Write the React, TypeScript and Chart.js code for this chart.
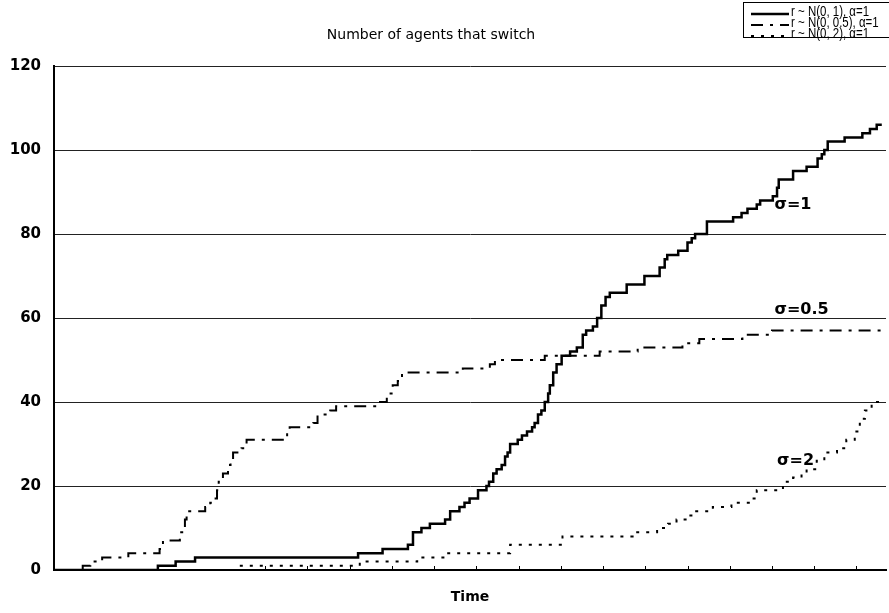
import { useEffect, useRef } from 'react';
import { Chart, registerables } from 'chart.js';

Chart.register(...registerables);

// σ = 1 run: time of each switch and cumulative count after it
const timeSigma1 = [0, 123, 144, 167, 360, 389, 419, 425, 435, 445, 463, 469, 480, 486, 492, 502, 512, 515, 520, 524, 530, 534, 537, 540, 549, 554, 560, 566, 569, 573, 577, 581, 585, 587, 591, 595, 601, 611, 619, 626, 630, 638, 643, 648, 653, 658, 678, 699, 717, 723, 726, 739, 750, 755, 759, 773, 804, 814, 821, 832, 836, 851, 856, 858, 875, 891, 904, 909, 912, 916, 936, 957, 966, 974, 980];
const countSigma1 = [0, 1, 2, 3, 4, 5, 6, 9, 10, 11, 12, 14, 15, 16, 17, 19, 20, 21, 23, 24, 25, 27, 28, 30, 31, 32, 33, 34, 35, 37, 38, 40, 42, 44, 47, 49, 51, 52, 53, 56, 57, 58, 60, 63, 65, 66, 68, 70, 72, 74, 75, 76, 78, 79, 80, 83, 84, 85, 86, 87, 88, 89, 91, 93, 95, 96, 98, 99, 100, 102, 103, 104, 105, 106, 106];

// σ = 0.5 run
const timeSigma05 = [0, 34, 43, 57, 88, 125, 129, 149, 153, 155, 157, 179, 185, 188, 193, 195, 200, 206, 209, 212, 222, 224, 228, 276, 279, 307, 312, 327, 334, 382, 394, 396, 401, 407, 412, 484, 516, 522, 581, 646, 691, 744, 764, 815, 850, 985];
const countSigma05 = [0, 1, 2, 3, 4, 5, 7, 9, 10, 12, 14, 15, 16, 17, 19, 21, 23, 25, 26, 28, 29, 30, 31, 33, 34, 35, 37, 38, 39, 40, 41, 42, 44, 45, 47, 48, 49, 50, 51, 52, 53, 54, 55, 56, 57, 57];

// σ = 2 run
const timeSigma2 = [0, 218, 362, 430, 465, 540, 602, 685, 714, 727, 737, 749, 759, 780, 802, 826, 832, 863, 875, 885, 891, 903, 912, 927, 938, 948, 954, 960, 968, 985];
const countSigma2 = [0, 1, 2, 3, 4, 6, 8, 9, 10, 11, 12, 13, 14, 15, 16, 17, 19, 21, 22, 23, 24, 26, 28, 29, 31, 33, 36, 38, 40, 40];

const seriesLabels = ['r ~ N(0, 1), α=1', 'r ~ N(0, 0.5), α=1', 'r ~ N(0, 2), α=1'];
const curveTags = ['σ=1', 'σ=0.5', 'σ=2'];
const yTickValues = [0, 20, 40, 60, 80, 100, 120];
const xTickMarks = [250, 300, 350, 400, 450, 500, 550, 600, 650, 700, 750, 800, 850, 900, 950];

const chartTitle = 'Number of agents that switch';
const xAxisTitle = 'Time';

const toPoints = (t: number[], v: number[]) => t.map((x, i) => ({ x, y: v[i] }));

// where each curve tag sits, in data units (time, count)
const tagAnchors = [
  { t: 853, v: 87 },
  { t: 853, v: 62 },
  { t: 856, v: 26 },
];

const decorations = {
  id: 'decorations',
  afterDatasetsDraw(chart: any) {
    const { ctx, chartArea, scales } = chart;
    ctx.save();
    // short inward tick marks on the time axis
    ctx.strokeStyle = '#000';
    ctx.lineWidth = 1;
    xTickMarks.forEach((t) => {
      const px = Math.round(scales.x.getPixelForValue(t)) + 0.5;
      ctx.beginPath();
      ctx.moveTo(px, chartArea.bottom);
      ctx.lineTo(px, chartArea.bottom - 4);
      ctx.stroke();
    });

    // curve tags
    ctx.fillStyle = '#000';
    ctx.font = 'bold 16px "DejaVu Sans"';
    ctx.textAlign = 'left';
    ctx.textBaseline = 'middle';
    curveTags.forEach((tag, i) => {
      const a = tagAnchors[i];
      ctx.fillText(tag, scales.x.getPixelForValue(a.t), scales.y.getPixelForValue(a.v));
    });
    ctx.restore();
  },
  afterDraw(chart: any) {
    const { ctx } = chart;
    ctx.save();
    // title
    ctx.fillStyle = '#000';
    ctx.font = '14px "DejaVu Sans"';
    ctx.textAlign = 'center';
    ctx.textBaseline = 'middle';
    ctx.fillText(chartTitle, 431, 35);

    // boxed legend in the top-right corner
    const boxLeft = 743.5;
    const boxTop = 2.5;
    ctx.fillStyle = '#fff';
    ctx.fillRect(boxLeft, boxTop, 160, 35);
    ctx.strokeStyle = '#000';
    ctx.lineWidth = 1;
    ctx.strokeRect(boxLeft, boxTop, 160, 35);

    ctx.textAlign = 'left';
    ctx.textBaseline = 'middle';
    chart.data.datasets.forEach((ds: any, i: number) => {
      const rowY = 11 + i * 11;
      ctx.save();
      ctx.strokeStyle = ds.borderColor;
      ctx.lineWidth = ds.borderWidth;
      ctx.setLineDash(ds.borderDash || []);
      ctx.beginPath();
      ctx.moveTo(751, rowY + 3);
      ctx.lineTo(789, rowY + 3);
      ctx.stroke();
      ctx.restore();

      // slightly condensed label text
      ctx.save();
      ctx.translate(791, rowY + 1);
      ctx.scale(0.82, 1);
      ctx.fillStyle = '#000';
      ctx.font = '14px "Liberation Sans"';
      ctx.fillText(ds.label, 0, 0);
      ctx.restore();
    });
    ctx.restore();
  },
};

export default function App() {
  const canvasRef = useRef<HTMLCanvasElement | null>(null);

  useEffect(() => {
    const canvas = canvasRef.current;
    if (!canvas) return;

    const chart = new Chart(canvas, {
      type: 'line',
      data: {
        datasets: [
          {
            label: seriesLabels[0],
            data: toPoints(timeSigma1, countSigma1),
            borderColor: '#000',
            borderWidth: 2.5,
            stepped: true,
            pointRadius: 0,
            fill: false,
          },
          {
            label: seriesLabels[1],
            data: toPoints(timeSigma05, countSigma05),
            borderColor: '#000',
            borderWidth: 2,
            borderDash: [12, 7, 3, 7],
            stepped: true,
            pointRadius: 0,
            fill: false,
          },
          {
            label: seriesLabels[2],
            data: toPoints(timeSigma2, countSigma2),
            borderColor: '#000',
            borderWidth: 2,
            borderDash: [3, 7],
            stepped: true,
            pointRadius: 0,
            fill: false,
          },
        ],
      },
      options: {
        responsive: false,
        animation: false,
        events: [],
        layout: { padding: { top: 66, right: 3, left: 0, bottom: 0 } },
        plugins: {
          legend: { display: false },
          title: { display: false },
          tooltip: { enabled: false },
        },
        scales: {
          x: {
            type: 'linear',
            min: 0,
            max: 985,
            ticks: { display: false },
            grid: { display: false },
            border: { display: true, color: '#000', width: 2 },
            title: {
              display: true,
              text: xAxisTitle,
              color: '#000',
              font: { family: '"DejaVu Sans"', size: 14, weight: 'bold' },
              padding: { top: 0, bottom: 7 },
            },
            afterFit: (scale: any) => {
              scale.height = 43;
            },
          },
          y: {
            min: 0,
            max: 120,
            afterBuildTicks: (scale: any) => {
              scale.ticks = yTickValues.map((value) => ({ value }));
            },
            ticks: {
              color: '#000',
              padding: 13,
              font: { family: '"DejaVu Sans"', size: 15, weight: 'bold' },
            },
            grid: { color: '#222', lineWidth: 1, drawTicks: false },
            border: { display: true, color: '#000', width: 2 },
            afterFit: (scale: any) => {
              scale.width = 54;
            },
          },
        },
      },
      plugins: [decorations],
    });

    return () => chart.destroy();
  }, []);

  return (
    <div style={{ position: 'absolute', left: 0, top: 0, width: 889, height: 613, background: '#fff' }}>
      <canvas ref={canvasRef} width={889} height={613} />
    </div>
  );
}
